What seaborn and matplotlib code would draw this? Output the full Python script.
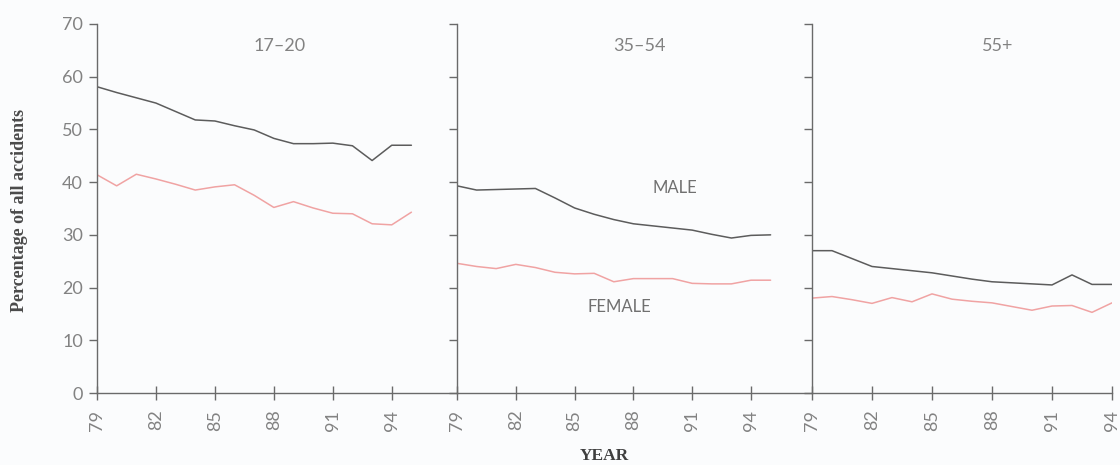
import numpy as np
import pandas as pd
import matplotlib
matplotlib.use("Agg")
import matplotlib.pyplot as plt
import seaborn as sns

# ---------------- data ----------------
years_a = list(range(79, 96))   # panels 17-20 and 35-54
years_b = list(range(79, 95))   # panel 55+

male_17_20 = [58.1, 57.0, 56.0, 55.0, 53.4, 51.8, 51.6, 50.7, 49.9, 48.3,
              47.3, 47.3, 47.4, 46.9, 44.1, 47.0, 47.0]
female_17_20 = [41.4, 39.3, 41.5, 40.6, 39.6, 38.5, 39.1, 39.5, 37.5, 35.2,
                36.3, 35.1, 34.1, 34.0, 32.1, 31.9, 34.3]

male_35_54 = [39.3, 38.5, 38.6, 38.7, 38.8, 37.0, 35.1, 33.9, 32.9, 32.1,
              31.7, 31.3, 30.9, 30.1, 29.4, 29.9, 30.0]
female_35_54 = [24.6, 24.0, 23.6, 24.4, 23.8, 22.9, 22.6, 22.7, 21.1, 21.7,
                21.7, 21.7, 20.8, 20.7, 20.7, 21.4, 21.4]

male_55 = [27.0, 27.0, 25.5, 24.0, 23.6, 23.2, 22.8, 22.2, 21.6, 21.1,
           20.9, 20.7, 20.5, 22.4, 20.6, 20.6]
female_55 = [18.0, 18.3, 17.7, 17.0, 18.1, 17.3, 18.8, 17.8, 17.4, 17.1,
             16.4, 15.7, 16.5, 16.6, 15.3, 17.1]

panel_titles = ["17\u201320", "35\u201354", "55+"]
x_ticks = [79, 82, 85, 88, 91, 94]
y_ticks = [0, 10, 20, 30, 40, 50, 60, 70]

panels = [
    (panel_titles[0], years_a, male_17_20, female_17_20),
    (panel_titles[1], years_a, male_35_54, female_35_54),
    (panel_titles[2], years_b, male_55, female_55),
]

# ---------------- style ----------------
sns.set_theme(style="white")
plt.rcParams["font.family"] = ["Lato", "DejaVu Sans"]

BG = "#fbfcfd"
AXC = "#6a6a6a"
TXT = "#828282"
MALE_C = "#5c5c5c"
FEMALE_C = "#f0a3a3"

W, H = 1120, 465
fig = plt.figure(figsize=(W / 100, H / 100), dpi=100, facecolor=BG)

bottom = (H - 393) / H
height = (393 - 24) / H
rects = [(97, 360), (457, 355), (812, 300)]
xlims = [(79, 79 + 360 / 19.65), (79, 79 + 355 / 19.6), (79, 94)]

axes = []
for i, ((title, yrs, m, f), (x0, w), xl) in enumerate(zip(panels, rects, xlims)):
    ax = fig.add_axes([x0 / W, bottom, w / W, height])
    ax.set_facecolor("none")
    df = pd.DataFrame({
        "year": list(yrs) * 2,
        "pct": list(m) + list(f),
        "sex": ["MALE"] * len(yrs) + ["FEMALE"] * len(yrs),
    })
    sns.lineplot(data=df, x="year", y="pct", hue="sex",
                 palette={"MALE": MALE_C, "FEMALE": FEMALE_C},
                 linewidth=1.1, legend=False, ax=ax)
    ax.set_xlim(*xl)
    ax.set_ylim(0, 70)
    ax.set_xticks(x_ticks)
    ax.set_xticklabels([str(t) for t in x_ticks], rotation=90)
    ax.set_yticks(y_ticks)
    if i == 0:
        ax.set_yticklabels([str(t) for t in y_ticks])
    else:
        ax.set_yticklabels([])
    ax.set_xlabel("")
    ax.set_ylabel("")
    for s in ["top", "right"]:
        ax.spines[s].set_visible(False)
    for s in ["left", "bottom"]:
        ax.spines[s].set_color(AXC)
        ax.spines[s].set_linewidth(1.0)
    ax.tick_params(axis="y", direction="out", length=6, width=1.0, color=AXC,
                   labelsize=13, labelcolor=TXT, pad=4, left=True)
    ax.tick_params(axis="x", direction="inout", length=10, width=1.0, color=AXC,
                   labelsize=13, labelcolor=TXT, pad=7, bottom=True)
    ax.text(88.3, 65.8, title, ha="center", va="center", fontsize=13,
            color=TXT)
    axes.append(ax)

axes[1].text(90.1, 38.9, "MALE", ha="center", va="center", fontsize=12,
             color="#707070")
axes[1].text(87.3, 16.3, "FEMALE", ha="center", va="center", fontsize=12,
             color="#707070")

fig.text(20 / W, 1 - 210 / H, "Percentage of all accidents", rotation=90,
         ha="center", va="center", fontsize=13, fontweight="bold",
         color="#4a4a4a", family=["Liberation Serif", "DejaVu Serif"])
fig.text(604 / W, 1 - 456 / H, "YEAR", ha="center", va="center",
         fontsize=12.5, fontweight="bold", color="#3f3f3f",
         family=["Liberation Serif", "DejaVu Serif"])

fig.savefig("out.png", dpi=100, facecolor=BG)
